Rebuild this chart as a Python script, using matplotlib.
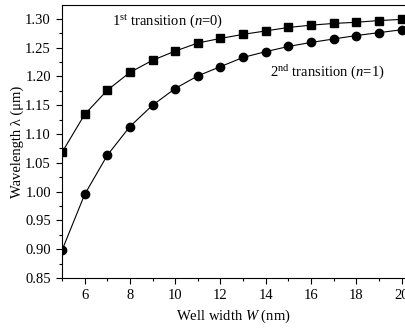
import matplotlib
matplotlib.use('Agg')
import matplotlib.pyplot as plt
from matplotlib.ticker import MultipleLocator

plt.rcParams['font.family'] = ['Liberation Serif', 'DejaVu Serif']
plt.rcParams['mathtext.fontset'] = 'custom'
plt.rcParams['mathtext.rm'] = 'Liberation Serif'
plt.rcParams['mathtext.it'] = 'Liberation Serif:italic'

# well width (nm) and emission wavelength (um) for the two transitions
well_width = [5, 6, 7, 8, 9, 10, 11, 12, 13, 14, 15, 16, 17, 18, 19, 20]
first_transition = [1.068, 1.134, 1.176, 1.207, 1.228, 1.244, 1.258, 1.266,
                    1.273, 1.279, 1.285, 1.289, 1.292, 1.294, 1.297, 1.299]
second_transition = [0.898, 0.995, 1.063, 1.113, 1.150, 1.179, 1.201, 1.217,
                     1.233, 1.243, 1.252, 1.259, 1.265, 1.271, 1.276, 1.281]

fig = plt.figure(figsize=(4.05, 3.29), dpi=100)
ax = fig.add_axes([62 / 405, 51 / 329, 343 / 405, 273 / 329])

ax.plot(well_width, first_transition, '-s', color='black', lw=0.8,
        markersize=5.5)
ax.plot(well_width, second_transition, '-o', color='black', lw=0.8,
        markersize=6)

ax.set_xlim(5, 20.15)
ax.set_ylim(0.85, 1.324)
ax.xaxis.set_minor_locator(MultipleLocator(1))
ax.yaxis.set_minor_locator(MultipleLocator(0.025))
ax.set_yticks([0.85, 0.90, 0.95, 1.00, 1.05, 1.10, 1.15, 1.20, 1.25, 1.30])
ax.set_yticklabels(['%.2f' % v for v in ax.get_yticks()])
ax.set_xticks([6, 8, 10, 12, 14, 16, 18, 20])

ax.tick_params(which='major', direction='out', length=4.5, width=0.8,
               labelsize=10.5, top=False, right=False)
ax.tick_params(which='minor', direction='out', length=2.5, width=0.8,
               top=False, right=False)
ax.spines['right'].set_visible(False)
for s in ['left', 'bottom', 'top']:
    ax.spines[s].set_linewidth(0.8)

ax.set_xlabel('Well width $W$ (nm)', fontsize=10.5, labelpad=4)
ax.set_ylabel('Wavelength λ (μm)', fontsize=10.5, labelpad=1)

ax.text(7.2, 1.295, r'1$^{\mathrm{st}}$ transition ($n$=0)', fontsize=10.5,
        va='center', ha='left')
ax.text(14.2, 1.207, r'2$^{\mathrm{nd}}$ transition ($n$=1)', fontsize=10.5,
        va='center', ha='left')

fig.savefig('out.png', dpi=100)
